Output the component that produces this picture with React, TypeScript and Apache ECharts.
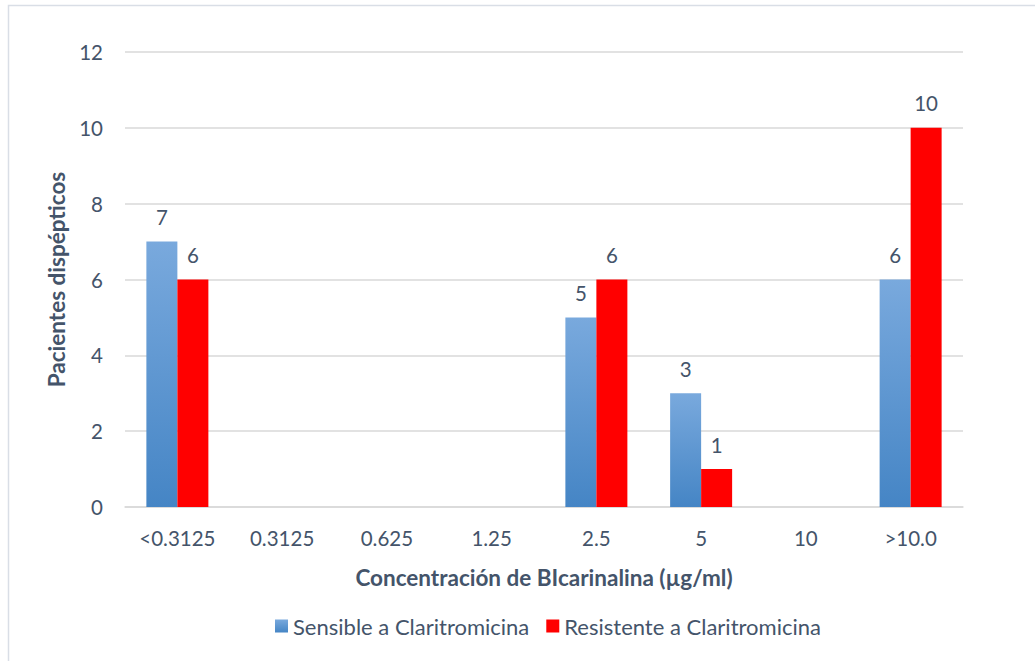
import React, { useEffect, useRef } from "react";
import * as echarts from "echarts";

const categories = ["<0.3125", "0.3125", "0.625", "1.25", "2.5", "5", "10", ">10.0"];
const sensible = [7, null, null, null, 5, 3, null, 6];
const resistente = [6, null, null, null, 6, 1, null, 10];
const yTicks = [0, 2, 4, 6, 8, 10, 12];

const textColor = "#44546A";
const font = "Lato, 'Open Sans', sans-serif";

export default function App() {
  const ref = useRef<HTMLDivElement>(null);
  useEffect(() => {
    if (!ref.current) return;
    const chart = echarts.init(ref.current, undefined, { renderer: "svg" });
    chart.setOption({
      animation: false,
      textStyle: { fontFamily: font },
      graphic: [
        {
          type: "rect",
          shape: { x: 8.5, y: 5.5, width: 1040, height: 700 },
          style: { fill: "none", stroke: "#D9DEE6", lineWidth: 1.5 },
          silent: true,
        },
      ],
      grid: { left: 125, right: 72, top: 52, bottom: 154, containLabel: false },
      legend: {
        bottom: 19,
        left: 270,
        itemWidth: 13,
        itemHeight: 13,
        itemGap: 17,
        icon: "rect",
        textStyle: { color: textColor, fontSize: 22, fontFamily: font },
        data: ["Sensible a Claritromicina", "Resistente a Claritromicina"],
      },
      xAxis: {
        type: "category",
        data: categories,
        axisLine: { lineStyle: { color: "#D9D9D9", width: 1.5 } },
        axisTick: { show: false },
        axisLabel: { color: textColor, fontSize: 20.5, margin: 20, fontFamily: font },
        name: "Concentración de BIcarinalina (µg/ml)",
        nameLocation: "middle",
        nameGap: 59,
        nameTextStyle: { color: textColor, fontSize: 22.5, fontWeight: "bold", fontFamily: font },
      },
      yAxis: {
        type: "value",
        min: yTicks[0],
        max: yTicks[yTicks.length - 1],
        interval: 2,
        axisLine: { show: false },
        axisTick: { show: false },
        splitLine: { lineStyle: { color: "#D9D9D9", width: 1.5 } },
        axisLabel: { color: textColor, fontSize: 20.5, margin: 22, fontFamily: font },
        name: "Pacientes dispépticos",
        nameLocation: "middle",
        nameGap: 54,
        nameTextStyle: { color: textColor, fontSize: 22.5, fontWeight: "bold", fontFamily: font },
      },
      series: [
        {
          name: "Sensible a Claritromicina",
          type: "bar",
          data: sensible,
          barWidth: 31,
          barGap: "0%",
          itemStyle: {
            color: new echarts.graphic.LinearGradient(0, 0, 0, 1, [
              { offset: 0, color: "#79A9DD" },
              { offset: 1, color: "#4585C5" },
            ]),
          },
          label: {
            show: true,
            position: "top",
            distance: 14,
            color: textColor,
            fontSize: 20.5,
            fontFamily: font,
          },
        },
        {
          name: "Resistente a Claritromicina",
          type: "bar",
          data: resistente,
          barWidth: 31,
          itemStyle: { color: "#FF0000" },
          label: {
            show: true,
            position: "top",
            distance: 14,
            color: textColor,
            fontSize: 20.5,
            fontFamily: font,
          },
        },
      ],
    });
    return () => chart.dispose();
  }, []);
  return (
    <div
      ref={ref}
      style={{ position: "fixed", left: 0, top: 0, width: 1035, height: 661, background: "#fff" }}
    />
  );
}
